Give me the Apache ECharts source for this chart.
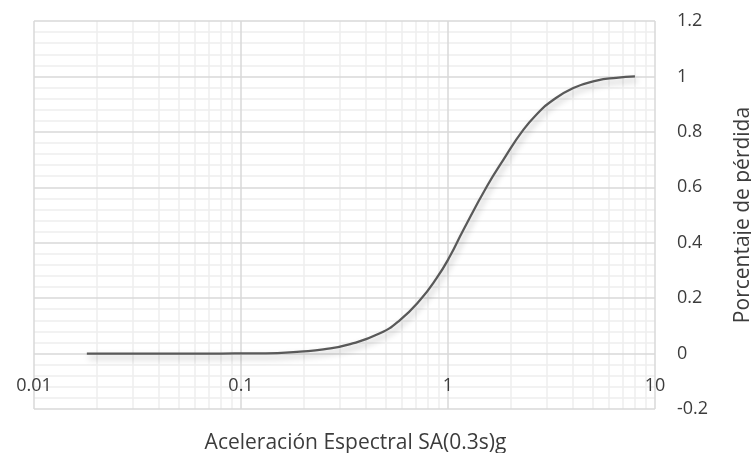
<!DOCTYPE html>
<html>
<head>
<meta charset="utf-8">
<style>
  html, body { margin: 0; padding: 0; background: #ffffff; }
  #chart { width: 751px; height: 453px; }
</style>
<script src="https://cdn.jsdelivr.net/npm/echarts@6/dist/echarts.min.js"></script>
</head>
<body>
<div id="chart"></div>
<script>
// Spectral acceleration SA(0.3s) in g and the matching loss ratio
const saValues = [0.018, 0.03, 0.05, 0.08, 0.1, 0.15, 0.193, 0.25, 0.337, 0.469, 0.586, 0.733, 0.881, 1.02, 1.186, 1.54, 1.85, 2.31, 2.78, 3.11, 4.03, 5.22, 6.5, 8.0];
const lossValues = [0.0, 0.0, 0.0, 0.0, 0.0005, 0.002, 0.007, 0.015, 0.034, 0.073, 0.121, 0.193, 0.272, 0.35, 0.446, 0.603, 0.699, 0.807, 0.875, 0.907, 0.958, 0.985, 0.995, 1.0];

// Minor vertical gridlines at 2..9 inside each decade
const decades = [0.01, 0.1, 1];
const minorSteps = [2, 3, 4, 5, 6, 7, 8, 9];

const xTitle = 'Aceleración Espectral SA(0.3s)g';
const yTitle = 'Porcentaje de pérdida';

const curve = saValues.map((v, i) => [v, lossValues[i]]);
const minorLines = [];
decades.forEach(d => minorSteps.forEach(k => minorLines.push({ xAxis: +(d * k).toPrecision(3) })));

const FONT = '"Open Sans", sans-serif';
const TEXT = '#3c3c3c';

const chart = echarts.init(document.getElementById('chart'), null, { renderer: 'canvas' });
chart.setOption({
  animation: false,
  backgroundColor: '#ffffff',
  grid: { left: 34, right: 96, top: 21, bottom: 44, containLabel: false, outerBoundsMode: 'none' },
  xAxis: {
    type: 'log',
    logBase: 10,
    min: 0.01,
    max: 10,
    axisLine: { show: false },
    axisTick: { show: false },
    axisLabel: {
      color: TEXT, fontFamily: FONT, fontSize: 18, margin: -32,
      showMinLabel: true, showMaxLabel: true,
      formatter: v => String(+v.toPrecision(3))
    },
    splitLine: { show: true, lineStyle: { color: '#d9d9d9', width: 1.5 } },
    name: xTitle,
    nameLocation: 'middle',
    nameGap: 24,
    nameTextStyle: { color: TEXT, fontFamily: FONT, fontSize: 21, padding: [0, 0, 0, 22] }
  },
  yAxis: {
    type: 'value',
    position: 'right',
    min: -0.2,
    max: 1.2,
    interval: 0.2,
    axisLine: { show: false },
    axisTick: { show: false },
    axisLabel: {
      color: TEXT, fontFamily: FONT, fontSize: 18, margin: 22, align: 'left',
      formatter: v => String(+v.toFixed(1))
    },
    splitLine: { show: true, lineStyle: { color: '#d9d9d9', width: 1.5 } },
    minorTick: { show: false, splitNumber: 5 },
    minorSplitLine: { show: true, lineStyle: { color: '#eeeeee', width: 1.5 } },
    name: yTitle,
    nameLocation: 'middle',
    nameGap: 78,
    nameRotate: 90,
    nameTextStyle: { color: TEXT, fontFamily: FONT, fontSize: 21 }
  },
  series: [
    {
      type: 'line',
      z: -1,
      data: [],
      silent: true,
      markLine: {
        z: -1,
        silent: true,
        symbol: 'none',
        label: { show: false },
        lineStyle: { color: '#eeeeee', width: 1.5, type: 'solid' },
        data: minorLines
      }
    },
    {
      type: 'line',
      z: 5,
      data: curve,
      smooth: 0.5,
      showSymbol: false,
      lineStyle: {
        color: '#595959',
        width: 2.25,
        shadowColor: 'rgba(0,0,0,0.28)',
        shadowBlur: 6,
        shadowOffsetX: 2,
        shadowOffsetY: 4
      }
    }
  ]
});
</script>
</body>
</html>
